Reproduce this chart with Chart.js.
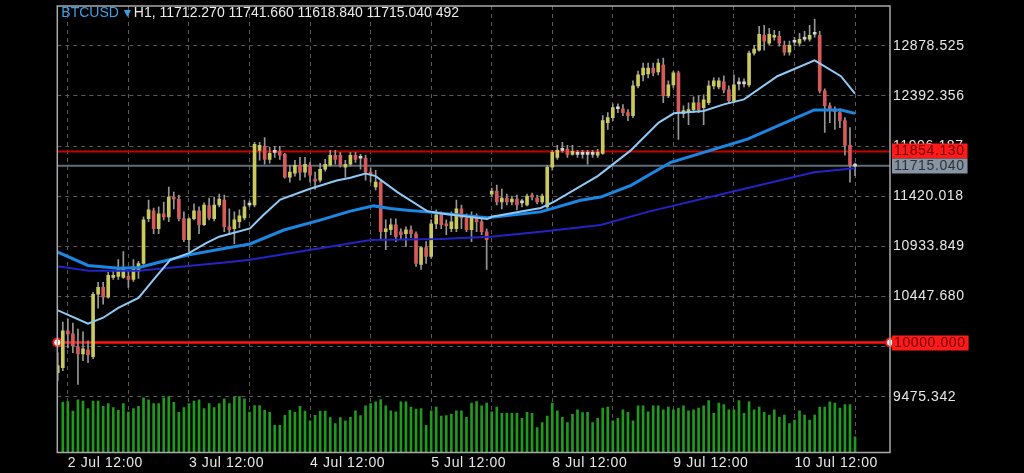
<!DOCTYPE html>
<html>
<head>
<meta charset="utf-8">
<script src="https://cdn.jsdelivr.net/npm/chart.js@4.4.1/dist/chart.umd.min.js"></script>
<style>
  html, body { margin: 0; padding: 0; background: #000; }
  #wrap { width: 1024px; height: 473px; position: relative; }
</style>
</head>
<body>
<div id="wrap"><canvas id="myChart"></canvas></div>
<script>
"use strict";
// hourly candles, first one is the partial bar on the left edge (index -1)
const opens = [
  9708, 9756, 10113, 10084, 9959, 9891, 9930, 9862, 10469, 10536,
  10440, 10633, 10642, 10633, 10642, 10613, 10690, 10767, 11201, 11278,
  11104, 11249, 11220, 11412, 11393, 11201, 10998, 11201, 11278, 11143,
  11326, 11201, 11335, 11383, 11124, 11104, 11172, 11210, 11335, 11335,
  11865, 11903, 11778, 11846, 11855, 11826, 11605, 11643, 11720, 11653,
  11720, 11586, 11576, 11682, 11720, 11817, 11817, 11701, 11730, 11817,
  11788, 11788, 11653, 11509, 11557, 11075, 11095, 11143, 11075, 11056,
  11095, 11056, 10758, 10921, 10835, 11152, 11239, 11152, 11104, 11104,
  11297, 11210, 11095, 11220, 11172, 11075, 11441, 11470, 11364, 11403,
  11364, 11393, 11355, 11335, 11432, 11403, 11364, 11316, 11701, 11797,
  11865, 11874, 11826, 11826, 11826, 11826, 11826, 11817, 11836, 12134,
  12183, 12269, 12269, 12231, 12202, 12491, 12597, 12606, 12664, 12625,
  12693, 12394, 12500, 12616, 12221, 12231, 12260, 12327, 12279, 12327,
  12491, 12481, 12529, 12452, 12346, 12510, 12510, 12500, 12808, 12837,
  12982, 12905, 12962, 12972, 12885, 12818, 12914, 12905, 12943, 12943,
  12991, 12982, 12442, 12298, 12260, 12231, 12154, 11913, 11712.27
];
const highs = [
  9901, 10199, 10228, 10190, 10132, 10103, 10016, 10488, 10584, 10584,
  10681, 10700, 10806, 10883, 10690, 10806, 10787, 11220, 11383, 11306,
  11316, 11364, 11509, 11460, 11432, 11268, 11210, 11345, 11316, 11355,
  11403, 11412, 11441, 11432, 11297, 11268, 11287, 11383, 11374, 11942,
  11942, 11990, 11894, 11903, 11903, 11836, 11720, 11769, 11797, 11797,
  11749, 11653, 11740, 11778, 11865, 11865, 11846, 11769, 11846, 11846,
  11826, 11817, 11692, 11672, 11576, 11191, 11201, 11201, 11104, 11124,
  11133, 11075, 10931, 10979, 11191, 11287, 11268, 11191, 11268, 11383,
  11335, 11249, 11268, 11249, 11201, 11104, 11499, 11528, 11489, 11441,
  11422, 11432, 11393, 11441, 11451, 11432, 11441, 11720, 11865, 11913,
  11942, 11913, 11913, 11865, 11865, 11865, 11865, 11874, 12202, 12231,
  12317, 12317, 12308, 12260, 12539, 12635, 12712, 12712, 12712, 12751,
  12760, 12539, 12635, 12635, 12298, 12327, 12385, 12394, 12404, 12539,
  12568, 12568, 12587, 12491, 12597, 12568, 12558, 12828, 12885, 13068,
  13078, 13049, 13030, 13020, 12924, 12924, 12962, 13001, 13020, 13078,
  13136, 13020, 12462, 12327, 12288, 12269, 12183, 12086, 11741.66
];
const lows = [
  9631, 9728, 9949, 9901, 9593, 9824, 9805, 9843, 10334, 10373,
  10430, 10613, 10613, 10623, 10536, 10594, 10623, 10758, 11172, 11056,
  11056, 11191, 11172, 11297, 11181, 10979, 10883, 11191, 11056, 11133,
  11191, 11181, 11316, 11075, 11056, 10960, 11114, 11191, 11316, 11316,
  11769, 11730, 11740, 11797, 11778, 11595, 11557, 11615, 11576, 11605,
  11557, 11489, 11557, 11663, 11711, 11730, 11701, 11605, 11711, 11749,
  11682, 11576, 11557, 11480, 10998, 10902, 11047, 10979, 10998, 10931,
  11018, 10739, 10710, 10767, 10816, 11104, 11104, 11047, 11075, 11075,
  11104, 11075, 10979, 11075, 11047, 10710, 11412, 11335, 11297, 11335,
  11335, 11287, 11316, 11326, 11383, 11345, 11345, 11297, 11672, 11778,
  11846, 11797, 11817, 11797, 11788, 11730, 11797, 11797, 11826, 12067,
  12154, 12231, 12202, 12154, 12183, 12471, 12539, 12568, 12587, 12597,
  12327, 12375, 12471, 11971, 12183, 12115, 12231, 12231, 12115, 12308,
  12462, 12462, 12423, 12327, 12327, 12452, 12481, 12481, 12789, 12828,
  12837, 12885, 12933, 12876, 12789, 12789, 12885, 12876, 12924, 12924,
  12962, 12423, 12038, 12134, 12067, 12086, 11817, 11557, 11618.84
];
const closes = [
  9776, 10113, 10084, 9968, 9891, 9939, 9882, 10469, 10536, 10440,
  10652, 10652, 10719, 10719, 10613, 10729, 10767, 11191, 11287, 11104,
  11249, 11220, 11412, 11393, 11201, 10998, 11201, 11278, 11143, 11335,
  11210, 11335, 11393, 11124, 11095, 11191, 11229, 11316, 11345, 11923,
  11913, 11778, 11836, 11855, 11817, 11605, 11653, 11720, 11653, 11730,
  11624, 11566, 11682, 11730, 11817, 11778, 11720, 11730, 11817, 11778,
  11797, 11653, 11634, 11557, 11075, 11104, 11143, 11027, 11047, 11095,
  11056, 10767, 10921, 10835, 11152, 11239, 11143, 11133, 11172, 11297,
  11210, 11095, 11220, 11172, 11075, 10998, 11470, 11364, 11403, 11364,
  11393, 11335, 11364, 11422, 11412, 11364, 11422, 11701, 11846, 11865,
  11874, 11826, 11855, 11836, 11836, 11836, 11836, 11846, 12154, 12183,
  12279, 12279, 12231, 12202, 12491, 12597, 12664, 12664, 12616, 12712,
  12394, 12500, 12616, 12231, 12250, 12260, 12327, 12260, 12356, 12491,
  12539, 12539, 12452, 12346, 12500, 12519, 12519, 12808, 12847, 12991,
  12924, 12991, 12982, 12905, 12818, 12885, 12924, 12943, 12953, 12982,
  13001, 12442, 12298, 12260, 12240, 12154, 11913, 11720, 11715.04
];
const volumes = [
  null, 1580, 1600, 1300, 1655, 1610, 1375, 1610, 1610, 1445,
  1530, 1405, 1320, 1530, 1270, 1375, 1445, 1715, 1655, 1530,
  1530, 1715, 1755, 1570, 1260, 1405, 1530, 1610, 1655, 1375,
  1530, 1405, 1530, 1685, 1530, 1735, 1755, 1685, 1270, 1475,
  1475, 1320, 1260, 855, 855, 1165, 1320, 1260, 1445, 1300,
  990, 1165, 1300, 1300, 1095, 910, 1095, 990, 1100, 1305,
  1155, 1465, 1530, 1585, 1660, 1465, 1305, 1275, 1585, 1585,
  1425, 1360, 1380, 855, 1305, 1425, 1145, 1155, 1200, 1305,
  1305, 1100, 1550, 1595, 1465, 1550, 1275, 1425, 1230, 1230,
  1230, 1230, 1070, 1260, 1230, 780, 940, 1145, 1550, 1305,
  1100, 940, 1200, 1340, 1250, 1260, 940, 1070, 1390, 1425,
  995, 1070, 1340, 1260, 995, 1465, 1465, 1275, 1465, 1465,
  1340, 1425, 1340, 1390, 1465, 1305, 1340, 1390, 1465, 1625,
  1230, 1550, 1500, 1340, 1340, 1625, 1230, 1585, 1340, 1425,
  1260, 1175, 1340, 1100, 1175, 910, 1015, 1305, 1175, 1015,
  1175, 1425, 1425, 1585, 1550, 1390, 1500, 1500, 492
];

// moving averages: [bar index, price]
const fastMa = [
  [-1.1, 10315], [5, 10183], [8, 10241], [11, 10337], [15, 10433], [17.7, 10594],
  [21.3, 10803], [25, 10867], [28.3, 10963], [31, 11027], [37.1, 11107], [39.7, 11236],
  [43.1, 11388], [49, 11492], [54.3, 11573], [57, 11600], [60, 11639], [62, 11615],
  [66.3, 11460], [72.2, 11275], [75, 11252], [84.1, 11198], [85, 11220], [94.7, 11306],
  [97.3, 11364], [106, 11615], [112.5, 11862], [118.1, 12134], [121.1, 12224], [127, 12247],
  [131, 12311], [135, 12359], [141.6, 12584], [149, 12738], [154.2, 12584], [157, 12416]
];
const midMa = [
  [-1.1, 10880], [5, 10748], [11.1, 10722], [15.1, 10729], [19.7, 10787], [25, 10851],
  [32.2, 10915], [37.1, 10957], [43.8, 11092], [51, 11188], [57, 11275], [61.6, 11326],
  [64.9, 11300], [68.2, 11284], [72.2, 11268], [84.1, 11210], [94.7, 11268], [102.6, 11381],
  [106.6, 11412], [112.6, 11525], [120.5, 11749], [135.7, 11974], [148.9, 12257], [154.2, 12257],
  [157, 12224]
];
const slowMa = [
  [-1.1, 10740], [5.1, 10697], [15.1, 10697], [32.6, 10780], [37.1, 10803], [51, 10915],
  [61, 10995], [74.8, 11005], [84.8, 11027], [94.7, 11075], [106.6, 11140], [115.9, 11268],
  [132.4, 11460], [148.9, 11653], [157, 11691]
];

const priceTicks = [9475.342, 9961.511, 10447.680, 10933.849, 11420.018, 11906.187, 12392.356, 12878.525];
const gridBars = [1, 13, 25, 37, 49, 61, 73, 85, 97, 109, 121, 133, 145, 157];
const timeLabels = ["2 Jul 12:00", "3 Jul 12:00", "4 Jul 12:00", "5 Jul 12:00", "8 Jul 12:00", "9 Jul 12:00", "10 Jul 12:00"];
const resistance = 11854.13;
const bidPrice = 11715.04;
const support = 10000;
const symbol = "BTCUSD";
const quoteLine = "H1, 11712.270 11741.660 11618.840 11715.040 492";

const xMin = -1.09;
const xMax = 163.93;
const FONT = '"Liberation Sans", Arial, sans-serif';

const barX = opens.map((_, i) => i - 1);

const bodyColor = (i) => {
  const d = closes[i] - opens[i];
  if (Math.abs(d) < 15) return "#d4d4d4";
  return d > 0 ? "#c9c95e" : "#d65a5a";
};

const level = (value, color, width, handles) => ({
  type: "line",
  data: [{ x: xMin, y: value }, { x: xMax, y: value }],
  borderColor: color,
  borderWidth: width,
  pointRadius: handles ? 4 : 0,
  pointBackgroundColor: "#ffffff",
  pointBorderColor: color,
  pointBorderWidth: 2,
  clip: false,
  order: 3,
});

const maLine = (pts, color, width) => ({
  type: "line",
  data: pts.map(([x, y]) => ({ x, y })),
  borderColor: color,
  borderWidth: width,
  pointRadius: 0,
  tension: 0,
  order: 0,
});

const noPadding = (axis) => {
  axis.paddingTop = 0;
  axis.paddingBottom = 0;
  axis.paddingLeft = 0;
  axis.paddingRight = 0;
};

const drawTag = (ctx, y, text, bg, fg, x) => {
  ctx.font = "14px " + FONT;
  const w = ctx.measureText(text).width + 5;
  ctx.fillStyle = bg;
  ctx.fillRect(x, Math.round(y) - 7.5, w, 15);
  ctx.fillStyle = fg;
  ctx.textAlign = "left";
  ctx.textBaseline = "middle";
  ctx.fillText(text, x + 2, Math.round(y) + 0.5);
};

const frame = {
  id: "frame",
  beforeDraw(chart) {
    chart.ctx.letterSpacing = "0.6px";
  },
  afterDraw(chart) {
    const { ctx, chartArea: a, scales } = chart;
    ctx.save();
    ctx.strokeStyle = "#a9a9a9";
    ctx.lineWidth = 1.5;
    ctx.strokeRect(a.left, a.top, a.right - a.left, a.bottom - a.top);

    const tx = a.right + 2;
    drawTag(ctx, scales.y.getPixelForValue(resistance), resistance.toFixed(3), "#ff1a1a", "#6a0000", tx);
    drawTag(ctx, scales.y.getPixelForValue(bidPrice), bidPrice.toFixed(3), "#8794a2", "#2b323b", tx);
    drawTag(ctx, scales.y.getPixelForValue(support), support.toFixed(3), "#ff1a1a", "#6a0000", tx);

    // header line
    ctx.letterSpacing = "0px";
    ctx.font = "14px " + FONT;
    ctx.textBaseline = "middle";
    ctx.textAlign = "left";
    ctx.fillStyle = "#35a2ec";
    ctx.fillText(symbol, a.left + 4, 13);
    const sw = ctx.measureText(symbol).width;
    const tri = a.left + 4 + sw + 5;
    ctx.beginPath();
    ctx.moveTo(tri, 10);
    ctx.lineTo(tri + 7, 10);
    ctx.lineTo(tri + 3.5, 17);
    ctx.closePath();
    ctx.fill();
    ctx.fillStyle = "#ececec";
    ctx.fillText(quoteLine, tri + 10, 13);
    ctx.restore();
  },
};

const ctx = document.getElementById("myChart").getContext("2d");
const myChart = new Chart(ctx, {
  type: "bar",
  data: {
    datasets: [
      maLine(fastMa, "#8fcaf7", 2),
      maLine(midMa, "#1b87e3", 3),
      maLine(slowMa, "#2323c6", 2),
      {
        data: barX.map((x, i) => ({ x, y: [opens[i], closes[i]] })),
        backgroundColor: (c) => bodyColor(c.dataIndex),
        barThickness: 3,
        minBarLength: 2,
        grouped: false,
        order: 1,
      },
      {
        data: barX.map((x, i) => ({ x, y: [lows[i], highs[i]] })),
        backgroundColor: "#979797",
        barThickness: 1,
        grouped: false,
        order: 2,
      },
      level(resistance, "#c40000", 2, false),
      level(bidPrice, "#5f6c79", 2, false),
      level(support, "#ff1414", 2.5, true),
      {
        data: barX.map((x, i) => ({ x, y: volumes[i] })),
        yAxisID: "yv",
        backgroundColor: "#1f9a1f",
        barThickness: 2,
        grouped: false,
        order: 4,
      },
    ],
  },
  options: {
    responsive: true,
    maintainAspectRatio: false,
    animation: false,
    devicePixelRatio: 1,
    layout: { padding: { left: 57.3, top: 2.5, right: 0, bottom: 0 } },
    plugins: { legend: { display: false }, tooltip: { enabled: false } },
    scales: {
      x: {
        type: "linear",
        min: xMin,
        max: xMax,
        offset: false,
        grid: { color: "#5a5a5a", lineWidth: 1, drawTicks: false, offset: false },
        border: { display: false, dash: [4, 4] },
        afterBuildTicks: (axis) => {
          axis.ticks = gridBars.map((v) => ({ value: v }));
        },
        afterFit: (axis) => {
          axis.height = 20.5;
          noPadding(axis);
        },
        ticks: {
          color: "#e8e8e8",
          font: { family: FONT, size: 14 },
          align: "start",
          maxRotation: 0,
          autoSkip: false,
          padding: 2,
          callback: (v) => ((v - 1) % 24 === 0 ? timeLabels[(v - 1) / 24] : ""),
        },
      },
      y: {
        position: "right",
        min: 8933.4,
        max: 13265.5,
        grid: { color: "#5a5a5a", lineWidth: 1, drawTicks: false },
        border: { display: false, dash: [4, 4] },
        afterBuildTicks: (axis) => {
          axis.ticks = priceTicks.map((v) => ({ value: v }));
        },
        afterFit: (axis) => {
          axis.width = 134;
          noPadding(axis);
        },
        ticks: {
          color: "#e8e8e8",
          font: { family: FONT, size: 14 },
          padding: 3,
          callback: (v) => v.toFixed(3),
        },
      },
      yv: { display: false, min: 0, max: 14000 },
    },
  },
  plugins: [frame],
});
</script>
</body>
</html>
